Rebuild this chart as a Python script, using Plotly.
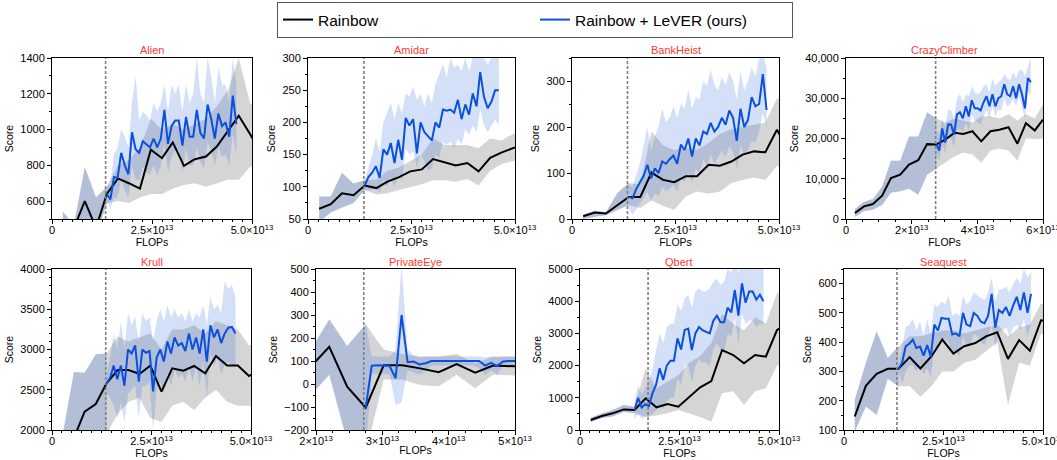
import numpy as np
import plotly.graph_objects as go

# ---------------- data (FLOPs in units of 1e13) ----------------
FLOP_UNIT = 1e13
RAINBOW_X = [0.27, 0.55, 0.82, 1.10, 1.37, 1.65, 1.92, 2.20, 2.47, 2.75, 3.02,
             3.30, 3.57, 3.85, 4.12, 4.40, 4.67, 4.95, 5.22, 5.48, 5.75, 6.00]
LEVER_STEP = 0.09

GAMES = ["Alien", "Amidar", "BankHeist", "CrazyClimber",
         "Krull", "PrivateEye", "Qbert", "Seaquest"]

# Alien
ALIEN_RAINBOW = [430, 450, 600, 450, 640, 727, 700, 670, 887, 840, 928, 797, 834, 849, 905, 990, 1077, 975, 870]
ALIEN_RAINBOW_LO = [400, 380, 460, 400, 590, 600, 590, 620, 640, 640, 670, 690, 700, 680, 700, 720, 720, 790, 815]
ALIEN_RAINBOW_HI = [540, 470, 790, 620, 680, 800, 830, 900, 1060, 1000, 1030, 1000, 1030, 1060, 1130, 1220, 1400, 1150, 1080]
ALIEN_LEVER = [640, 610, 735, 730, 870, 800, 750, 985, 890, 870, 935, 920, 900, 950, 900, 950, 1110, 920, 1020, 1050,
               1050, 910, 1070, 960, 960, 1110, 980, 950, 1140, 1060, 950, 1090, 1020, 1040, 960, 1190, 1030]
ALIEN_LEVER_HI = [680, 700, 860, 900, 1000, 960, 900, 1150, 1300, 1050, 1100, 1080, 1050, 1150, 1100, 1150, 1250, 1100, 1250, 1200,
                  1250, 1100, 1250, 1150, 1200, 1400, 1200, 1150, 1400, 1300, 1150, 1350, 1250, 1250, 1150, 1400, 1250]
ALIEN_LEVER_LO = [600, 560, 620, 620, 720, 660, 620, 800, 720, 720, 790, 760, 750, 800, 740, 800, 920, 760, 850, 880,
                  880, 760, 900, 800, 800, 900, 820, 780, 930, 880, 800, 900, 850, 860, 800, 980, 850]

# Amidar
AMIDAR_RAINBOW = [66, 73, 90, 87, 102, 98, 108, 115, 124, 127, 143, 138, 133, 137, 124, 145, 153, 160, 165]
AMIDAR_RAINBOW_LO = [45, 60, 68, 75, 95, 88, 90, 95, 100, 104, 110, 110, 108, 112, 102, 125, 135, 140, 140]
AMIDAR_RAINBOW_HI = [85, 85, 122, 105, 110, 111, 125, 130, 140, 150, 175, 165, 165, 165, 160, 175, 172, 182, 182]
AMIDAR_LEVER = [102, 115, 122, 132, 114, 158, 150, 168, 137, 173, 142, 207, 195, 205, 152, 200, 185, 178, 172, 200,
                192, 220, 218, 220, 215, 235, 205, 228, 212, 245, 225, 278, 240, 222, 232, 250, 250]
AMIDAR_LEVER_HI = [110, 130, 150, 175, 155, 200, 215, 230, 205, 230, 215, 245, 240, 255, 235, 245, 225, 245, 230, 260,
                   275, 290, 270, 300, 285, 290, 280, 300, 280, 300, 300, 310, 300, 290, 300, 310, 300]
AMIDAR_LEVER_LO = [95, 95, 95, 100, 90, 110, 100, 115, 100, 120, 110, 160, 150, 155, 130, 150, 140, 125, 130, 150,
                   145, 170, 165, 170, 160, 175, 165, 190, 180, 195, 185, 220, 195, 185, 195, 205, 195]

# BankHeist
BANKHEIST_RAINBOW = [6, 14, 12, 31, 48, 48, 101, 85, 80, 93, 93, 118, 116, 125, 140, 147, 145, 194, 150]
BANKHEIST_RAINBOW_LO = [0, 5, 8, 20, 30, 24, 40, 28, 20, 49, 60, 55, 60, 78, 85, 90, 85, 115, 110]
BANKHEIST_RAINBOW_HI = [10, 18, 15, 57, 78, 75, 190, 160, 150, 155, 150, 165, 185, 195, 200, 205, 210, 262, 255]
BANKHEIST_LEVER = [48, 45, 65, 78, 94, 118, 88, 110, 100, 125, 120, 130, 138, 120, 162, 150, 175, 136, 175, 160,
                   190, 185, 209, 190, 200, 220, 205, 236, 220, 170, 240, 200, 215, 265, 245, 250, 315, 237]
BANKHEIST_LEVER_HI = [75, 70, 95, 120, 160, 200, 150, 180, 200, 240, 210, 220, 245, 220, 250, 240, 281, 240, 265, 260,
                      300, 290, 325, 290, 280, 310, 290, 320, 300, 260, 320, 280, 300, 330, 310, 350, 360, 330]
BANKHEIST_LEVER_LO = [25, 10, 20, 35, 45, 60, 40, 55, 50, 70, 60, 65, 75, 60, 90, 80, 100, 80, 110, 100,
                      130, 115, 140, 120, 135, 150, 135, 160, 145, 110, 160, 140, 150, 170, 165, 190, 230, 200]

# CrazyClimber
CRAZYCLIMBER_RAINBOW = [1490, 3150, 3730, 5800, 10200, 11000, 13500, 14600, 18600, 18500, 19700, 21400, 21100, 21800,
                        19300, 21800, 22200, 22800, 18700, 23800, 22000, 24700]
CRAZYCLIMBER_RAINBOW_LO = [500, 2000, 2300, 3500, 6500, 6870, 7500, 6000, 11000, 12500, 14000, 15500, 16500, 16000,
                           14000, 17000, 17500, 17000, 14500, 20000, 19800, 20000]
CRAZYCLIMBER_RAINBOW_HI = [2500, 4300, 5000, 8100, 14500, 14500, 20500, 20500, 26500, 25000, 24000, 25000, 24500, 24000,
                           25500, 25500, 25000, 26000, 24500, 26000, 25000, 28500]
CRAZYCLIMBER_LEVER = [18500, 17000, 22500, 19000, 23500, 23500, 21000, 26000, 26500, 25000, 28000, 25500, 29500, 27500,
                      27500, 27000, 29000, 30500, 28000, 31000, 28000, 30000, 30500, 33500, 31000, 30500, 33000, 30000,
                      33500, 31000, 27500, 35000, 34000]
CRAZYCLIMBER_LEVER_HI = [22000, 21000, 25000, 23000, 27000, 27000, 25000, 30000, 31000, 29000, 31000, 30500, 33000, 31500,
                         31000, 31500, 33000, 33500, 31500, 35000, 33000, 34000, 34500, 36000, 35000, 34500, 36500, 35000,
                         37000, 37000, 35500, 38000, 40000]
CRAZYCLIMBER_LEVER_LO = [16000, 14500, 18500, 16500, 20500, 20000, 18000, 22000, 22500, 21500, 24000, 22000, 26000, 24500,
                         24000, 23500, 25500, 27000, 25000, 28000, 25500, 27000, 27000, 30000, 28000, 28500, 30000, 28000,
                         30500, 28000, 25000, 31500, 31000]

# Krull
KRULL_RAINBOW = [1600, 1900, 2228, 2323, 2580, 2745, 2745, 2696, 2800, 2477, 2766, 2737, 2795, 2704, 2920, 2800, 2800, 2670, 2750]
KRULL_RAINBOW_LO = [1400, 1500, 1700, 1800, 1950, 2200, 2350, 2400, 2150, 2100, 2300, 2350, 2250, 2400, 2500, 2350, 2300, 2300, 2280]
KRULL_RAINBOW_HI = [1950, 2720, 2710, 2940, 2950, 3160, 3100, 3150, 3200, 3000, 3250, 3250, 3300, 3200, 3350, 3300, 3250, 3050, 3100]
KRULL_LEVER = [2580, 2650, 2800, 2630, 2800, 2550, 3000, 2950, 3050, 2600, 3000, 2960, 2980, 2480, 2900, 3000, 2850, 3100, 2950,
               3150, 3050, 3080, 2980, 3200, 3000, 3150, 2950, 3250, 2850, 3300, 3150, 3250, 3080, 3200, 3270, 3280, 3200]
KRULL_LEVER_HI = [2700, 2900, 3200, 3000, 3350, 3000, 3450, 3300, 3400, 3100, 3450, 3350, 3400, 3100, 3350, 3500, 3350, 3550, 3400,
                  3500, 3400, 3450, 3350, 3500, 3350, 3450, 3400, 3550, 3300, 3650, 3500, 3550, 3450, 3850, 3750, 3800, 3650]
KRULL_LEVER_LO = [2450, 2400, 2300, 2150, 2350, 2100, 2450, 2500, 2550, 2150, 2550, 2550, 2600, 2000, 2500, 2600, 2450, 2700, 2550,
                  2750, 2650, 2700, 2600, 2800, 2600, 2800, 2550, 2850, 2400, 2950, 2800, 2900, 2700, 2800, 2850, 2800, 2800]

# PrivateEye (Rainbow evaluations from the 7th one, x = 1.92e13)
PRIVATEEYE_RAINBOW = [75, 162, -12, -103, 81, 81, 68, 51, 87, 49, 80, 78, 75]
PRIVATEEYE_RAINBOW_LO = [-50, 40, -250, -300, 20, 20, -4, -10, 40, -19, 40, 38, 35]
PRIVATEEYE_RAINBOW_HI = [150, 280, 165, 260, 150, 130, 120, 120, 130, 90, 120, 120, 120]
PRIVATEEYE_LEVER = [-103, 80, 82, 80, 78, 25, 300, 95, 98, 85, 90, 100, 100,
                    100, 100, 100, 100, 100, 100, 100, 80, 92, 78, 98, 100, 100]
PRIVATEEYE_LEVER_HI = [260, 120, 120, 120, 120, 150, 520, 150, 125, 115, 120, 120, 120,
                       120, 120, 120, 120, 120, 120, 120, 115, 120, 115, 120, 120, 120]
PRIVATEEYE_LEVER_LO = [-300, 45, 45, 45, 40, -90, -80, 60, 50, 40, 55, 80, 80,
                       80, 80, 80, 80, 80, 80, 70, 40, 60, 40, 80, 80, 80]

# Qbert
QBERT_RAINBOW = [310, 435, 518, 640, 620, 983, 704, 807, 725, 1035, 1325, 1521, 2484, 2329, 2070, 2329, 2277, 3105, 3300]
QBERT_RAINBOW_LO = [250, 370, 420, 560, 520, 414, 450, 520, 620, 500, 400, 260, 1138, 1200, 776, 1200, 1300, 2000, 2000]
QBERT_RAINBOW_HI = [380, 520, 620, 776, 720, 1915, 1300, 1500, 1700, 2100, 2300, 2700, 3600, 3300, 3100, 3500, 3300, 4250, 4300]
QBERT_LEVER = [620, 1000, 700, 800, 745, 1138, 1400, 1915, 1552, 2000, 2153, 2150, 2846, 2500, 3105, 3150, 2484, 3000, 3200,
               3100, 3050, 3000, 3395, 3550, 3350, 3350, 3800, 3650, 4347, 3550, 4554, 3950, 4300, 4300, 4050, 4200, 4000]
QBERT_LEVER_HI = [900, 1400, 1100, 1300, 1500, 1900, 2500, 3000, 2700, 3200, 3300, 3300, 3900, 3700, 4100, 4200, 3800, 4300, 4400,
                  4300, 4300, 4400, 4600, 4700, 4500, 4600, 5000, 4900, 5200, 4900, 5200, 5100, 5200, 5100, 5000, 5100, 5200]
QBERT_LEVER_LO = [350, 500, 350, 400, 400, 500, 600, 800, 650, 900, 1000, 1000, 1600, 1400, 2000, 2000, 1500, 2000, 2200,
                  2100, 2100, 2000, 2500, 2700, 2500, 2400, 3000, 2900, 3500, 2700, 3600, 3300, 3400, 3400, 3200, 3300, 3300]

# Seaquest
SEAQUEST_RAINBOW = [146, 251, 292, 309, 309, 349, 310, 352, 409, 361, 386, 397, 420, 434, 343, 407, 371, 475, 470]
SEAQUEST_RAINBOW_LO = [95, 180, 151, 275, 249, 250, 214, 250, 300, 300, 330, 340, 370, 400, 185, 330, 320, 430, 420]
SEAQUEST_RAINBOW_HI = [203, 330, 437, 346, 386, 420, 420, 430, 440, 440, 430, 440, 450, 460, 420, 450, 460, 532, 520]
SEAQUEST_LEVER = [309, 330, 386, 395, 409, 380, 385, 354, 390, 350, 460, 440, 483, 480, 480, 426, 430, 420, 500,
                  460, 455, 500, 490, 470, 465, 490, 565, 450, 510, 500, 520, 490, 525, 555, 510, 570, 500, 565]
SEAQUEST_LEVER_HI = [320, 380, 450, 460, 480, 440, 470, 420, 480, 430, 530, 520, 540, 530, 560, 490, 500, 490, 560,
                     530, 540, 570, 560, 550, 545, 570, 620, 540, 580, 580, 590, 570, 600, 620, 600, 650, 620, 640]
SEAQUEST_LEVER_LO = [300, 260, 300, 320, 320, 300, 320, 290, 310, 280, 380, 370, 410, 410, 400, 360, 370, 350, 420,
                     390, 390, 430, 420, 400, 390, 420, 460, 380, 430, 440, 450, 420, 450, 460, 440, 480, 420, 460]

# first Rainbow evaluation shown, index of freeze evaluation, freeze (dashed) line position
RAINBOW_START = [0, 0, 0, 0, 0, 6, 0, 0]
FREEZE_INDEX = [4, 4, 4, 9, 4, 3, 4, 4]
FREEZE_LINE = [1.34, 1.35, 1.34, 2.73, 1.35, 2.72, 1.71, 1.33]

SERIES = {
    "Alien": (ALIEN_RAINBOW, ALIEN_RAINBOW_LO, ALIEN_RAINBOW_HI, ALIEN_LEVER, ALIEN_LEVER_LO, ALIEN_LEVER_HI),
    "Amidar": (AMIDAR_RAINBOW, AMIDAR_RAINBOW_LO, AMIDAR_RAINBOW_HI, AMIDAR_LEVER, AMIDAR_LEVER_LO, AMIDAR_LEVER_HI),
    "BankHeist": (BANKHEIST_RAINBOW, BANKHEIST_RAINBOW_LO, BANKHEIST_RAINBOW_HI, BANKHEIST_LEVER, BANKHEIST_LEVER_LO, BANKHEIST_LEVER_HI),
    "CrazyClimber": (CRAZYCLIMBER_RAINBOW, CRAZYCLIMBER_RAINBOW_LO, CRAZYCLIMBER_RAINBOW_HI, CRAZYCLIMBER_LEVER, CRAZYCLIMBER_LEVER_LO, CRAZYCLIMBER_LEVER_HI),
    "Krull": (KRULL_RAINBOW, KRULL_RAINBOW_LO, KRULL_RAINBOW_HI, KRULL_LEVER, KRULL_LEVER_LO, KRULL_LEVER_HI),
    "PrivateEye": (PRIVATEEYE_RAINBOW, PRIVATEEYE_RAINBOW_LO, PRIVATEEYE_RAINBOW_HI, PRIVATEEYE_LEVER, PRIVATEEYE_LEVER_LO, PRIVATEEYE_LEVER_HI),
    "Qbert": (QBERT_RAINBOW, QBERT_RAINBOW_LO, QBERT_RAINBOW_HI, QBERT_LEVER, QBERT_LEVER_LO, QBERT_LEVER_HI),
    "Seaquest": (SEAQUEST_RAINBOW, SEAQUEST_RAINBOW_LO, SEAQUEST_RAINBOW_HI, SEAQUEST_LEVER, SEAQUEST_LEVER_LO, SEAQUEST_LEVER_HI),
}

# ---------------- layout / style ----------------
W, H = 1057, 460
FONT = "Liberation Sans, Arial, Helvetica, sans-serif"
BLACK = "#000000"
BLUE = "#0a50dc"
GRAY_FILL = "rgba(100,100,100,0.27)"
BLUE_FILL = "rgba(60,115,225,0.22)"
TITLE_RED = "#ff3b30"

# pixel boxes: (left, right, top, bottom)
BOXES = [(52, 252, 58, 219), (308, 515, 58, 219), (572, 779, 58, 219), (846, 1043, 58, 219),
         (52, 251, 269, 430), (316, 515, 269, 430), (580, 779, 269, 430), (844, 1043, 269, 430)]
TITLE_Y = [50, 50, 50, 50, 262, 262, 262, 262]

Y_RANGE = [(500, 1400), (50, 300), (0, 350), (0, 40000), (2000, 4000), (-200, 500), (0, 5000), (100, 650)]
Y_DTICK = [200, 50, 100, 10000, 500, 100, 1000, 100]
Y_MINOR = [100, 25, 50, 5000, 100, 50, 500, 50]

SUP = "×10<sup>13</sup>"
X_STD = dict(range=(0, 5), vals=[0, 2.5, 5], text=["0", "2.5" + SUP, "5.0" + SUP], minor=0.25)
X_CC = dict(range=(0, 6), vals=[0, 2, 4, 6], text=["0", "2" + SUP, "4" + SUP, "6" + SUP], minor=0.5)
X_PE = dict(range=(2, 5), vals=[2, 3, 4, 5], text=["2" + SUP, "3" + SUP, "4" + SUP, "5" + SUP], minor=0.25)
X_AXES = [X_STD, X_STD, X_STD, X_CC, X_STD, X_PE, X_STD, X_STD]

fig = go.Figure()

for i, game in enumerate(GAMES):
    rb, rb_lo, rb_hi, lv, lv_lo, lv_hi = SERIES[game]
    suffix = "" if i == 0 else str(i + 1)
    xa, ya = "x" + suffix, "y" + suffix
    s = RAINBOW_START[i]
    rx = np.array(RAINBOW_X[s:s + len(rb)]) * FLOP_UNIT
    f = FREEZE_INDEX[i]
    lx = (RAINBOW_X[s + f] + LEVER_STEP * np.arange(len(lv))) * FLOP_UNIT

    # Rainbow band (grey)
    fig.add_trace(go.Scatter(x=np.concatenate([rx, rx[::-1]]), y=list(rb_hi) + list(rb_lo)[::-1],
                             fill="toself", fillcolor=GRAY_FILL, line=dict(width=0), mode="lines",
                             hoverinfo="skip", showlegend=False, xaxis=xa, yaxis=ya))
    # shared pre-freeze part of the LeVER band (same runs as Rainbow)
    px_ = rx[:f + 1]
    fig.add_trace(go.Scatter(x=np.concatenate([px_, px_[::-1]]),
                             y=list(rb_hi[:f + 1]) + list(rb_lo[:f + 1])[::-1],
                             fill="toself", fillcolor=BLUE_FILL, line=dict(width=0), mode="lines",
                             hoverinfo="skip", showlegend=False, xaxis=xa, yaxis=ya))
    # LeVER band (blue)
    fig.add_trace(go.Scatter(x=np.concatenate([lx, lx[::-1]]), y=list(lv_hi) + list(lv_lo)[::-1],
                             fill="toself", fillcolor=BLUE_FILL, line=dict(width=0), mode="lines",
                             hoverinfo="skip", showlegend=False, xaxis=xa, yaxis=ya))
    # mean lines
    fig.add_trace(go.Scatter(x=rx, y=rb, mode="lines", line=dict(color=BLACK, width=2),
                             name="Rainbow", showlegend=(i == 0), xaxis=xa, yaxis=ya))
    fig.add_trace(go.Scatter(x=lx, y=lv, mode="lines", line=dict(color=BLUE, width=2),
                             name="Rainbow + LeVER (ours)", showlegend=(i == 0), xaxis=xa, yaxis=ya))

    # dashed freeze line
    fig.add_shape(type="line", xref=xa, yref=ya + " domain", x0=FREEZE_LINE[i] * FLOP_UNIT,
                  x1=FREEZE_LINE[i] * FLOP_UNIT, y0=0, y1=1, layer="above",
                  line=dict(color="#808080", width=1.6, dash="3px,2px"))

    l, r, t, b = BOXES[i]
    xd = [l / W, r / W]
    yd = [1 - b / H, 1 - t / H]
    xspec = X_AXES[i]
    common = dict(showline=True, linecolor="black", linewidth=1, mirror=True, ticks="outside",
                  ticklen=4, tickwidth=1, tickcolor="black", showgrid=False, zeroline=False,
                  tickfont=dict(size=11, color="black", family=FONT), automargin=False,
                  ticklabeloverflow="allow")
    fig.layout["xaxis" + suffix] = dict(
        common, domain=xd, anchor=ya, range=[xspec["range"][0] * FLOP_UNIT, xspec["range"][1] * FLOP_UNIT],
        tickmode="array", tickvals=[v * FLOP_UNIT for v in xspec["vals"]], ticktext=xspec["text"],
        minor=dict(ticks="outside", ticklen=2, tickcolor="black", tickmode="linear",
                   tick0=0, dtick=xspec["minor"] * FLOP_UNIT),
        title=dict(text="FLOPs", font=dict(size=10.5, color="black", family=FONT), standoff=0))
    fig.layout["yaxis" + suffix] = dict(
        common, domain=yd, anchor=xa, range=list(Y_RANGE[i]), tickmode="linear", tick0=0, dtick=Y_DTICK[i],
        tickformat="," if game == "CrazyClimber" else "",
        minor=dict(ticks="outside", ticklen=2, tickcolor="black", tickmode="linear", tick0=0, dtick=Y_MINOR[i]),
        title=dict(text="Score", font=dict(size=10.5, color="black", family=FONT), standoff=4))

    fig.add_annotation(text=game, xref="paper", yref="paper", x=(xd[0] + xd[1]) / 2, y=1 - TITLE_Y[i] / H,
                       xanchor="center", yanchor="middle", showarrow=False,
                       font=dict(size=11, color=TITLE_RED, family=FONT))

try:
    fig.update_xaxes(ticklabelstandoff=-3)
except (ValueError, TypeError):
    pass

fig.update_layout(
    width=W, height=H, margin=dict(l=0, r=0, t=0, b=0),
    paper_bgcolor="white", plot_bgcolor="white",
    font=dict(family=FONT, color="black"),
    legend=dict(orientation="h", x=277 / W, y=1 - 2 / H, xanchor="left", yanchor="top",
                bordercolor="#555555", borderwidth=1, bgcolor="white",
                font=dict(size=15.5, color="black", family=FONT),
                entrywidth=212, entrywidthmode="pixels"),
    showlegend=True,
)

fig.write_html("out.html")
